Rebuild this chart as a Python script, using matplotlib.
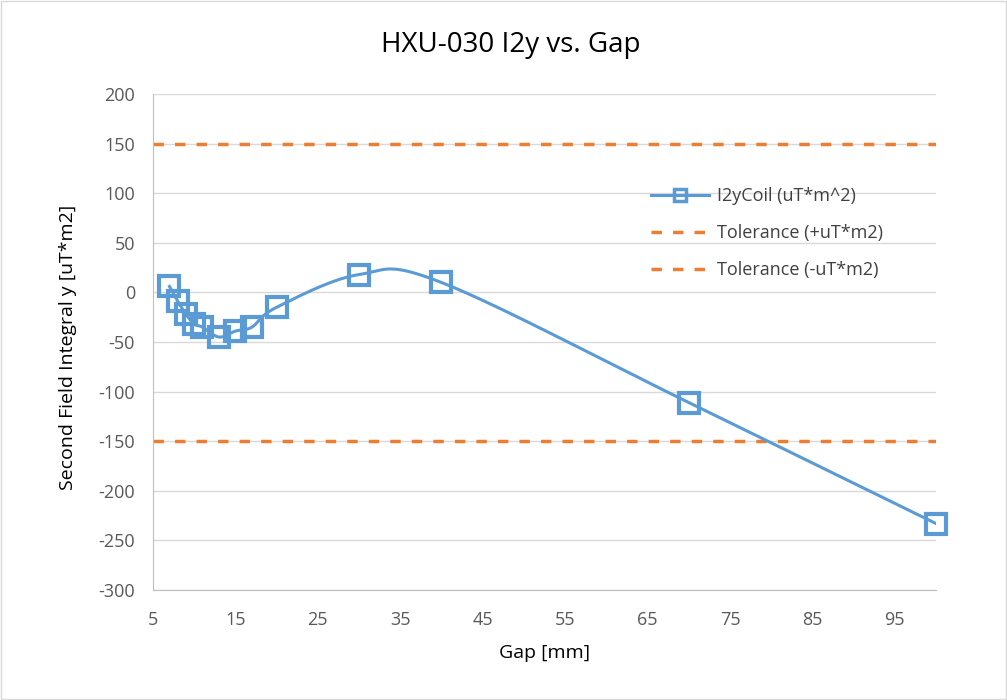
import numpy as np
import matplotlib
matplotlib.use("Agg")
import matplotlib.pyplot as plt
from matplotlib.patches import Rectangle

gap = [7, 8, 9, 10, 11, 13, 15, 17, 20, 30, 40, 70, 100]
i2y = [6, -9, -22, -32, -35, -45, -39, -35, -15, 18, 10, -111, -233]
tol_plus = 150
tol_minus = -150
xticks = [5, 15, 25, 35, 45, 55, 65, 75, 85, 95]
yticks = list(range(-300, 201, 50))

plt.rcParams['font.family'] = ['Open Sans', 'DejaVu Sans']
plt.rcParams['axes.unicode_minus'] = False


def excel_smooth(x, y, n=40):
    x = np.asarray(x, float); y = np.asarray(y, float)
    px, py = [x[0]], [y[0]]
    N = len(x)
    for i in range(N - 1):
        x0, y0 = (x[i - 1], y[i - 1]) if i > 0 else (x[i], y[i])
        x3, y3 = (x[i + 2], y[i + 2]) if i + 2 < N else (x[i + 1], y[i + 1])
        x1, y1 = x[i], y[i]
        x2, y2 = x[i + 1], y[i + 1]
        c1x = x1 + (x2 - x0) / 6; c1y = y1 + (y2 - y0) / 6
        c2x = x2 - (x3 - x1) / 6; c2y = y2 - (y3 - y1) / 6
        t = np.linspace(0, 1, n)[1:]
        bx = (1 - t) ** 3 * x1 + 3 * (1 - t) ** 2 * t * c1x + 3 * (1 - t) * t ** 2 * c2x + t ** 3 * x2
        by = (1 - t) ** 3 * y1 + 3 * (1 - t) ** 2 * t * c1y + 3 * (1 - t) * t ** 2 * c2y + t ** 3 * y2
        px.extend(bx); py.extend(by)
    return np.array(px), np.array(py)


fig = plt.figure(figsize=(10.07, 7.0), dpi=100)
W, H = 1007, 700
ax = fig.add_axes([153 / W, 1 - 590 / H, (936 - 153) / W, (590 - 94) / H])

blue = '#5B9BD5'
orange = '#ED7D31'

sx, sy = excel_smooth(gap, i2y)
ax.plot(sx, sy, color=blue, lw=2.2, zorder=3)
ax.plot(gap, i2y, ls='none', marker='s', ms=15, mfc='none', mec=blue, mew=3, zorder=4, clip_on=False)
ax.plot([], [], color=blue, lw=2.2, marker='s', ms=9, mfc='none', mec=blue, mew=2.5, label='I2yCoil (uT*m^2)')
ax.axhline(tol_plus, color=orange, ls=(0, (3, 3.2)), lw=2.5, label='Tolerance (+uT*m2)', zorder=2)
ax.axhline(tol_minus, color=orange, ls=(0, (3, 3.2)), lw=2.5, label='Tolerance (-uT*m2)', zorder=2)

ax.set_xlim(5, 100)
ax.set_ylim(-300, 200)
ax.set_xticks(xticks)
ax.set_yticks(yticks)
ax.grid(axis='y', color='#D9D9D9', lw=1)
ax.set_axisbelow(True)
for s in ['top', 'right']:
    ax.spines[s].set_visible(False)
ax.spines['left'].set_color('#BFBFBF')
ax.spines['bottom'].set_color('#BFBFBF')
ax.tick_params(length=0, labelsize=13, colors='#595959')
ax.tick_params(axis='x', pad=15)
ax.tick_params(axis='y', pad=13)

ax.set_xlabel('Gap [mm]', fontsize=14, color='black', labelpad=11)
ax.set_ylabel('Second Field Integral y [uT*m2]', fontsize=14, color='black', labelpad=15, y=0.49)
fig.text(511 / W, 1 - 45 / H, 'HXU-030 I2y vs. Gap', ha='center', va='center', fontsize=20)

leg = ax.legend(loc='upper left', bbox_to_anchor=((635 - 153) / (936 - 153), (590 - 171) / (590 - 94)),
                frameon=False, fontsize=13, handlelength=3.2, labelspacing=1.05, handletextpad=0.45)
for t in leg.get_texts():
    t.set_color('#404040')

fig.patches.append(Rectangle((1 / W, 1 / H), 1 - 2 / W, 1 - 2 / H, transform=fig.transFigure,
                             fill=False, edgecolor='#D9D9D9', lw=1))
fig.savefig('out.png', dpi=100)
